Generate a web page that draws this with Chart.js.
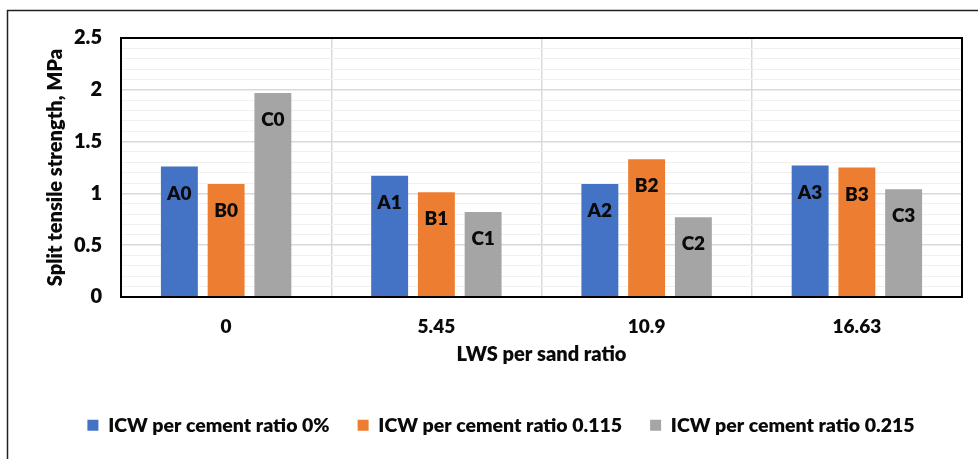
<!DOCTYPE html>
<html>
<head>
<meta charset="utf-8">
<script src="https://cdn.jsdelivr.net/npm/chart.js@4"></script>
<style>
  html, body { margin: 0; padding: 0; background: #fff; }
  #wrap { width: 978px; height: 459px; position: relative; }
</style>
</head>
<body>
<div id="wrap"><canvas id="chart" width="978" height="459"></canvas></div>
<script>
// LWS per sand ratio (x categories)
const categories = ['0', '5.45', '10.9', '16.63'];

// Split tensile strength (MPa) for each ICW per cement ratio
const seriesNames = ['ICW per cement ratio 0%', 'ICW per cement ratio 0.115', 'ICW per cement ratio 0.215'];
const seriesA = [1.26, 1.17, 1.09, 1.27];
const seriesB = [1.09, 1.01, 1.33, 1.25];
const seriesC = [1.97, 0.82, 0.77, 1.04];

// Mix labels printed inside each bar
const labelsA = ['A0', 'A1', 'A2', 'A3'];
const labelsB = ['B0', 'B1', 'B2', 'B3'];
const labelsC = ['C0', 'C1', 'C2', 'C3'];

// Y axis range and tick steps
const yMin = 0;
const yMax = 2.5;
const yMajorStep = 0.5;
const yMinorStep = 0.1;

const FONT = 'Lato, "Open Sans", sans-serif';
const WEIGHT = 800;
const TEXT = '#0a0a0a';
const colors = ['#4472C4', '#ED7D31', '#A5A5A5'];
const barLabels = [labelsA, labelsB, labelsC];

const isMajor = v => Math.abs(v / yMajorStep - Math.round(v / yMajorStep)) < 1e-6;

// Outer frame and plot-area border
const framePlugin = {
  id: 'frame',
  beforeDraw(chart) {
    const ctx = chart.ctx;
    ctx.save();
    ctx.fillStyle = '#fff';
    ctx.fillRect(0, 0, chart.width, chart.height);
    ctx.strokeStyle = '#222';
    ctx.lineWidth = 1.5;
    ctx.strokeRect(7.5, 10.5, chart.width + 20, chart.height + 20);
    ctx.restore();
  },
  afterDatasetsDraw(chart) {
    const {ctx, chartArea: a} = chart;
    ctx.save();
    ctx.strokeStyle = '#000';
    ctx.lineWidth = 2;
    ctx.strokeRect(a.left, a.top, a.right - a.left, a.bottom - a.top);
    ctx.restore();
  }
};

// Text labels drawn just inside the top end of each bar
const barLabelPlugin = {
  id: 'barLabels',
  afterDatasetsDraw(chart) {
    const ctx = chart.ctx;
    ctx.save();
    ctx.font = WEIGHT + ' 19px ' + FONT;
    ctx.fillStyle = TEXT;
    ctx.textAlign = 'center';
    ctx.textBaseline = 'middle';
    chart.data.datasets.forEach((ds, i) => {
      const meta = chart.getDatasetMeta(i);
      meta.data.forEach((el, j) => {
        ctx.fillText(barLabels[i][j], el.x, el.y + 27);
      });
    });
    ctx.restore();
  }
};

new Chart(document.getElementById('chart'), {
  type: 'bar',
  data: {
    labels: categories,
    datasets: [seriesA, seriesB, seriesC].map((d, i) => ({
      label: seriesNames[i],
      data: d,
      backgroundColor: colors[i],
      borderWidth: 0,
      categoryPercentage: 0.667,
      barPercentage: 0.79
    }))
  },
  options: {
    responsive: false,
    animation: false,
    layout: { padding: { left: 40, top: 38, right: 16, bottom: 14 } },
    plugins: {
      tooltip: { enabled: false },
      legend: {
        position: 'bottom',
        labels: {
          color: TEXT,
          font: { family: FONT, size: 19.5, weight: WEIGHT },
          boxWidth: 11,
          boxHeight: 11,
          padding: 28
        }
      }
    },
    scales: {
      x: {
        afterFit(s) { s.height = 90.5; },
        grid: { color: '#d9d9d9', lineWidth: 1.5, drawTicks: false, offset: true },
        border: { display: false },
        ticks: {
          color: TEXT,
          font: { family: FONT, size: 19, weight: WEIGHT },
          padding: 18
        },
        title: {
          display: true,
          text: 'LWS per sand ratio',
          color: TEXT,
          font: { family: FONT, size: 20, weight: WEIGHT },
          padding: { top: 0, bottom: 20.5 }
        }
      },
      y: {
        min: yMin,
        max: yMax,
        afterFit(s) { s.width = 81; },
        grid: {
          drawTicks: false,
          color: c => isMajor(c.tick.value) ? '#d9d9d9' : '#f0f0f0',
          lineWidth: c => isMajor(c.tick.value) ? 1.5 : 1
        },
        border: { display: false },
        ticks: {
          stepSize: yMinorStep,
          autoSkip: false,
          color: TEXT,
          font: { family: FONT, size: 20, weight: WEIGHT },
          padding: 19,
          callback: v => isMajor(v) ? String(Math.round(v * 10) / 10) : ''
        },
        title: {
          display: true,
          text: 'Split tensile strength, MPa',
          color: TEXT,
          font: { family: FONT, size: 20, weight: WEIGHT },
          padding: { top: 4, bottom: 0 }
        }
      }
    }
  },
  plugins: [framePlugin, barLabelPlugin]
});
</script>
</body>
</html>
